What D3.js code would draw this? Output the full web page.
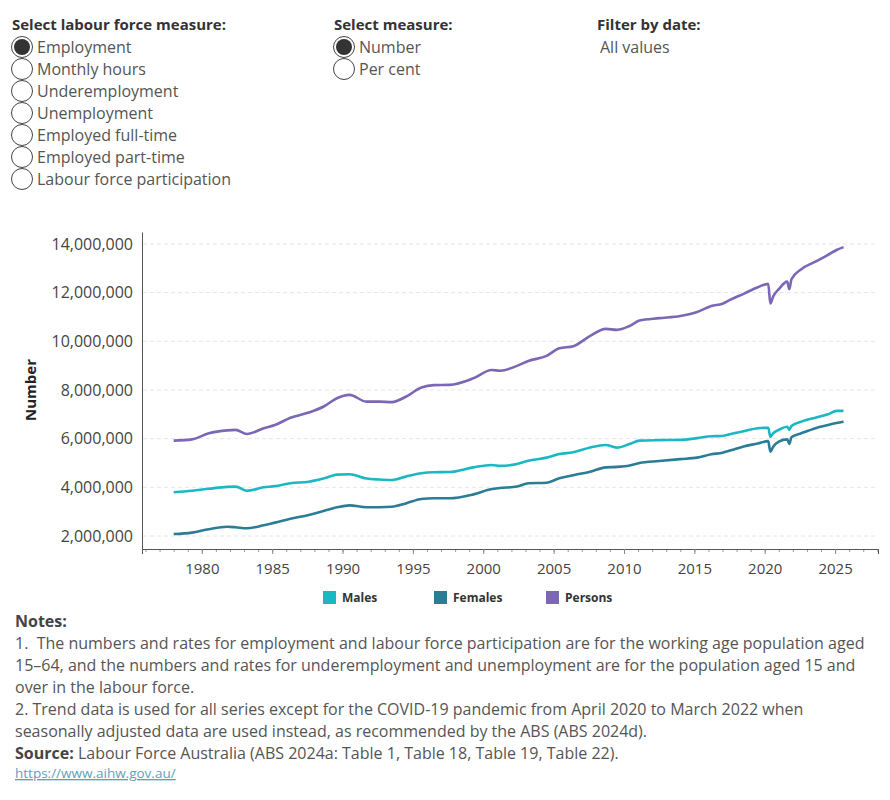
<!DOCTYPE html>
<html>
<head>
<meta charset="utf-8">
<script src="https://cdn.jsdelivr.net/npm/d3@7"></script>
<style>
  body { margin: 0; background: #fff; }
  svg text { font-family: "Open Sans", sans-serif; }
</style>
</head>
<body>
<div id="chart"></div>
<script>
// decimal years, values in millions
var years = [1978.0, 1979.3, 1980.5, 1981.8, 1982.4, 1983.2, 1984.4, 1985.2, 1986.3, 1987.6,
    1988.7, 1989.6, 1990.5, 1991.7, 1992.6, 1993.5, 1994.5, 1995.6, 1996.5, 1997.6,
    1999.3, 2000.6, 2001.2, 2002.4, 2003.2, 2004.5, 2005.4, 2006.4, 2007.6, 2008.7,
    2009.5, 2010.4, 2011.1, 2012.5, 2014.0, 2015.2, 2016.2, 2017.0, 2017.6, 2018.5,
    2019.5, 2020.25, 2020.4, 2020.6, 2021.0, 2021.6, 2021.75, 2021.9, 2022.6, 2023.6,
    2024.5, 2025.1, 2025.6];

var persons = [5.92, 5.97, 6.22, 6.34, 6.36, 6.19, 6.43, 6.56, 6.86, 7.07,
    7.33, 7.66, 7.80, 7.52, 7.52, 7.50, 7.72, 8.10, 8.20, 8.21,
    8.48, 8.82, 8.79, 8.99, 9.19, 9.40, 9.71, 9.80, 10.22, 10.51,
    10.47, 10.63, 10.85, 10.95, 11.04, 11.20, 11.45, 11.54, 11.72, 11.95,
    12.22, 12.36, 11.55, 11.84, 12.14, 12.45, 12.14, 12.55, 12.96, 13.27,
    13.55, 13.75, 13.87];

var males = [3.80, 3.86, 3.94, 4.02, 4.03, 3.86, 4.00, 4.05, 4.17, 4.23,
    4.37, 4.52, 4.54, 4.36, 4.32, 4.30, 4.44, 4.58, 4.62, 4.63,
    4.82, 4.92, 4.88, 4.96, 5.09, 5.22, 5.37, 5.44, 5.64, 5.74,
    5.63, 5.78, 5.92, 5.94, 5.95, 6.02, 6.10, 6.11, 6.19, 6.30,
    6.43, 6.45, 6.08, 6.22, 6.36, 6.49, 6.36, 6.52, 6.70, 6.86,
    7.00, 7.14, 7.14];

var females = [2.08, 2.14, 2.28, 2.38, 2.36, 2.32, 2.44, 2.55, 2.71, 2.86,
    3.04, 3.18, 3.26, 3.18, 3.18, 3.20, 3.34, 3.52, 3.55, 3.55,
    3.71, 3.93, 3.97, 4.03, 4.17, 4.19, 4.37, 4.50, 4.64, 4.82,
    4.84, 4.90, 5.00, 5.08, 5.16, 5.22, 5.36, 5.42, 5.52, 5.68,
    5.80, 5.90, 5.46, 5.67, 5.88, 5.97, 5.78, 6.06, 6.22, 6.43,
    6.56, 6.64, 6.70];

var seriesNames = ["Males", "Females", "Persons"];
var seriesColors = ["#1bb8c4", "#2b7d96", "#7b67b6"];
var yTicks = [2000000, 4000000, 6000000, 8000000, 10000000, 12000000, 14000000];
var xTicks = [1980, 1985, 1990, 1995, 2000, 2005, 2010, 2015, 2020, 2025];

var labourMeasures = ["Employment", "Monthly hours", "Underemployment", "Unemployment",
    "Employed full-time", "Employed part-time", "Labour force participation"];
var measureTypes = ["Number", "Per cent"];

var notes = [
    { bold: "Notes:", text: "" },
    { bold: "", text: "1.\u00a0 The numbers and rates for employment and labour force participation are for the working age population aged" },
    { bold: "", text: "15\u201364, and the numbers and rates for underemployment and unemployment are for the population aged 15 and" },
    { bold: "", text: "over in the labour force." },
    { bold: "", text: "2. Trend data is used for all series except for the COVID-19 pandemic from April 2020 to March 2022 when" },
    { bold: "", text: "seasonally adjusted data are used instead, as recommended by the ABS (ABS 2024d)." },
    { bold: "Source:", text: " Labour Force Australia (ABS 2024a: Table 1, Table 18, Table 19, Table 22)." }
];

var width = 890,
    height = 800;

var svg = d3.select("#chart")
    .append("svg")
    .attr("width", width)
    .attr("height", height);

// filter controls at the top
function radioGroup(x, title, items) {
    var g = svg.append("g").attr("transform", "translate(" + x + ",0)");
    g.append("text")
        .attr("x", 0).attr("y", 30)
        .style("font-size", "15px").style("font-weight", "bold").style("fill", "#333")
        .text(title);
    var item = g.selectAll(".opt").data(items).enter().append("g")
        .attr("transform", function (d, i) { return "translate(0," + (47 + i * 22) + ")"; });
    item.append("circle")
        .attr("cx", 10).attr("cy", 0).attr("r", 10.5)
        .style("fill", "#fff").style("stroke", "#444").style("stroke-width", 1);
    item.filter(function (d, i) { return i == 0; })
        .append("circle")
        .attr("cx", 10).attr("cy", 0).attr("r", 8)
        .style("fill", "#333");
    item.append("text")
        .attr("x", 25).attr("y", 5.5)
        .style("font-size", "16px").style("fill", "#555")
        .text(function (d) { return d; });
}
radioGroup(12, "Select labour force measure:", labourMeasures);
radioGroup(334, "Select measure:", measureTypes);

svg.append("text").attr("x", 597).attr("y", 30)
    .style("font-size", "15px").style("font-weight", "bold").style("fill", "#333")
    .text("Filter by date:");
svg.append("text").attr("x", 600).attr("y", 53)
    .style("font-size", "16px").style("fill", "#555")
    .text("All values");

// chart
var xScale = d3.scaleLinear().domain([1975.75, 2028.05]).range([142, 878]);
var yScale = d3.scaleLinear().domain([1466000, 14490000]).range([549, 232]);

svg.append("g")
    .selectAll("line")
    .data(yTicks)
    .enter()
    .append("line")
    .attr("x1", 143).attr("x2", 877)
    .attr("y1", function (d) { return yScale(d); })
    .attr("y2", function (d) { return yScale(d); })
    .style("stroke", "#e6e6e6")
    .style("stroke-dasharray", "4,3");

var yAxis = svg.append("g")
    .attr("transform", "translate(142,0)")
    .call(d3.axisLeft(yScale).tickValues(yTicks).tickSize(0).tickPadding(9)
        .tickFormat(d3.format(",")));
yAxis.select(".domain").style("stroke", "#555");
yAxis.selectAll("text").style("font-size", "16px").style("fill", "#444")
    .style("font-family", "'Open Sans', sans-serif");

var minorYears = d3.range(1976, 2029);
var xMinor = svg.append("g")
    .attr("transform", "translate(0,549)")
    .call(d3.axisBottom(xScale).tickValues(minorYears).tickSize(3).tickFormat(""));
xMinor.select(".domain").remove();
xMinor.selectAll("line").style("stroke", "#999");

var xAxis = svg.append("g")
    .attr("transform", "translate(0,549)")
    .call(d3.axisBottom(xScale).tickValues(xTicks).tickSize(5).tickPadding(9)
        .tickFormat(d3.format("d")));
xAxis.select(".domain").style("stroke", "#555");
xAxis.selectAll("line").style("stroke", "#888");
xAxis.selectAll("text").style("font-size", "15px").style("fill", "#444")
    .style("font-family", "'Open Sans', sans-serif");

svg.append("text")
    .attr("transform", "translate(36,390) rotate(-90)")
    .style("text-anchor", "middle")
    .style("font-size", "15px").style("font-weight", "bold").style("fill", "#222")
    .text("Number");

var line = d3.line()
    .x(function (d) { return xScale(d[0]); })
    .y(function (d) { return yScale(d[1] * 1000000); })
    .curve(d3.curveMonotoneX);

var seriesValues = [males, females, persons];
seriesValues.forEach(function (vals, k) {
    svg.append("path")
        .datum(years.map(function (y, i) { return [y, vals[i]]; }))
        .attr("d", line)
        .style("fill", "none")
        .style("stroke", seriesColors[k])
        .style("stroke-width", 2.6)
        .style("stroke-linejoin", "round");
});

// legend
var legendX = [323, 434, 546];
var legend = svg.append("g")
    .selectAll("g")
    .data(seriesNames)
    .enter()
    .append("g")
    .attr("transform", function (d, i) { return "translate(" + legendX[i] + ",591)"; });
legend.append("rect")
    .attr("width", 13).attr("height", 13)
    .style("fill", function (d, i) { return seriesColors[i]; });
legend.append("text")
    .attr("x", 19).attr("y", 11)
    .style("font-size", "12px").style("font-weight", "bold").style("fill", "#333")
    .text(function (d) { return d; });

// notes
var noteText = svg.append("g")
    .selectAll("text")
    .data(notes)
    .enter()
    .append("text")
    .attr("x", 15)
    .attr("y", function (d, i) { return 627 + i * 22; })
    .style("font-size", "16px")
    .style("fill", "#555");
noteText.append("tspan")
    .style("font-weight", "bold").style("fill", "#444")
    .text(function (d) { return d.bold; });
noteText.append("tspan")
    .text(function (d) { return d.text; });

svg.append("text")
    .attr("x", 15).attr("y", 778)
    .style("font-size", "13.5px")
    .style("fill", "#5c9fc0")
    .style("text-decoration", "underline")
    .text("https://www.aihw.gov.au/");
</script>
</body>
</html>
